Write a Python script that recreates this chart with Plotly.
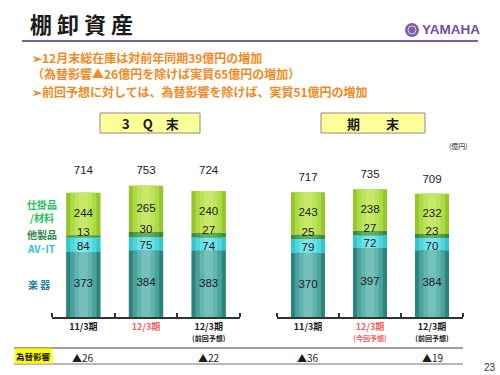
import plotly.graph_objects as go

# ---------------- data ----------------
cat_main = ["11/3期", "12/3期", "12/3期"]
cat_sub_3q = ["", "", "(前回予想)"]
cat_sub_fy = ["", "(今回予想)", "(前回予想)"]
cat_red_3q = [False, True, False]
cat_red_fy = [False, True, False]

series_names = ["楽 器", "AV･IT", "他製品", "仕掛品/材料"]

gakki_3q = [373, 384, 383]
avit_3q = [84, 75, 74]
other_3q = [13, 30, 27]
wip_3q = [244, 265, 240]
total_3q = [714, 753, 724]
fx_3q = [26, None, 22]

gakki_fy = [370, 397, 384]
avit_fy = [79, 72, 70]
other_fy = [25, 27, 23]
wip_fy = [243, 238, 232]
total_fy = [717, 735, 709]
fx_fy = [36, None, 19]

W, H = 500, 375
FONT = "Noto Sans CJK JP"
NUMFONT = "Liberation Sans"
# shading layers (outer edge -> centre) to mimic the horizontal gradient
layer_widths = [0.55, 0.42, 0.28, 0.14]
layer_colors = [
    ["#2f837d", "#49a29c", "#62b5af", "#74c1bb"],
    ["#33c6cd", "#4fd6dc", "#68e0e5", "#7ae7eb"],
    ["#3a8a3c", "#4c9c4d", "#5aa85a", "#62ae62"],
    ["#98c42e", "#addb43", "#bde35a", "#c8e86a"],
]
label_colors = ["#1f7fa5", "#1fc4e0", "#2a8a50", "#22c060"]


def px(x):
    return x / W


def py(y):
    return 1 - y / H


fig = go.Figure()


def add_chart(xa, ya, series, totals, fixed_total_level):
    xs = [0, 1, 2]
    cum = [0, 0, 0]
    bases = []
    for vals in series:
        bases.append(list(cum))
        cum = [c + v for c, v in zip(cum, vals)]
    for li, w in enumerate(layer_widths):
        for i, vals in enumerate(series):
            fig.add_trace(go.Bar(
                x=xs, y=vals, base=bases[i], xaxis=xa, yaxis=ya, width=w,
                marker=dict(color=layer_colors[i][li], line=dict(width=0)),
                showlegend=False, hoverinfo="skip"))
    for i, vals in enumerate(series):
        b = bases[i]
        if i == 2:
            # thin segment: label sits just above the segment's top edge
            pos = [c + v + 10 for c, v in zip(b, vals)]
        elif i == 1:
            pos = [c + v / 2 - 16 for c, v in zip(b, vals)]
        else:
            pos = [c + v / 2 for c, v in zip(b, vals)]
        fig.add_trace(go.Scatter(
            x=xs, y=pos, xaxis=xa, yaxis=ya, mode="text",
            text=[str(v) for v in vals],
            textfont=dict(family=NUMFONT, size=11.5, color="#1a1a1a"),
            showlegend=False, hoverinfo="skip"))
    if fixed_total_level:
        ty = [max(totals) + 86] * 3
    else:
        ty = [t + 80 for t in totals]
    fig.add_trace(go.Scatter(
        x=xs, y=ty, xaxis=xa, yaxis=ya, mode="text",
        text=[str(t) for t in totals],
        textfont=dict(family=NUMFONT, size=11.5, color="#1a1a1a"),
        showlegend=False, hoverinfo="skip"))


add_chart("x", "y", [gakki_3q, avit_3q, other_3q, wip_3q], total_3q, True)
add_chart("x2", "y2", [gakki_fy, avit_fy, other_fy, wip_fy], total_fy, False)


def ticktexts(mains, subs, reds):
    out = []
    for m, s, r in zip(mains, subs, reds):
        col = "#ff5a5a" if r else "#1a1a1a"
        t = f"<b><span style='color:{col}'>{m}</span></b>"
        if s:
            t += f"<br><span style='font-size:7px;color:{col}'><b>{s}</b></span>"
        out.append(t)
    return out


def xaxis_def(dom, mains, subs, reds, anchor):
    return dict(
        domain=dom, range=[-0.5, 2.5], showgrid=False, zeroline=False,
        showline=True, linecolor="#333", linewidth=1.5, anchor=anchor,
        tickvals=[0, 1, 2], ticktext=ticktexts(mains, subs, reds),
        ticks="", tickfont=dict(family=FONT, size=9, color="#1a1a1a"),
        minor=dict(tickvals=[-0.5, 0.5, 1.5, 2.5], ticks="inside", ticklen=4,
                   tickcolor="#333", tickwidth=1.5),
        fixedrange=True)


ydom = [py(317), py(150)]
yax = dict(domain=ydom, range=[0, 960], visible=False, fixedrange=True)

fig.update_layout(
    width=W, height=H, margin=dict(l=0, r=0, t=0, b=0),
    paper_bgcolor="white", plot_bgcolor="white", barmode="overlay",
    xaxis=xaxis_def([px(52), px(240)], cat_main, cat_sub_3q, cat_red_3q, "y"),
    xaxis2=xaxis_def([px(277), px(463)], cat_main, cat_sub_fy, cat_red_fy, "y2"),
    yaxis=dict(**yax, anchor="x"),
    yaxis2=dict(**yax, anchor="x2"),
    font=dict(family=FONT),
)

shapes = []
annos = []


def text(x, y, s, size, color="#1a1a1a", bold=False, anchor="center", **kw):
    if bold:
        s = f"<b>{s}</b>"
    annos.append(dict(x=px(x), y=py(y), xref="paper", yref="paper", text=s,
                      showarrow=False, xanchor=anchor, yanchor="middle",
                      font=dict(family=kw.pop("family", FONT), size=size, color=color), **kw))


# header
text(28, 23, "棚 卸 資 産", 22, "#1a1a1a", True, "left")
shapes.append(dict(type="line", xref="paper", yref="paper", x0=px(22), x1=px(478),
                   y0=py(41), y1=py(41), line=dict(color="#7b5ea7", width=2)))
shapes.append(dict(type="circle", xref="paper", yref="paper", x0=px(405), x1=px(419),
                   y0=py(37), y1=py(23), fillcolor="#7d5fa8", line=dict(width=0)))
shapes.append(dict(type="circle", xref="paper", yref="paper", x0=px(408), x1=px(416),
                   y0=py(34), y1=py(26), fillcolor="rgba(0,0,0,0)",
                   line=dict(color="#d8cce8", width=1)))
text(420, 30, "YAMAHA", 13.5, "#6f4fa0", True, "left", family="Liberation Sans")

orange = "#f08a24"
text(30, 57, "➢12月末総在庫は対前年同期39億円の増加", 12, orange, True, "left")
text(30, 73, "（為替影響▲26億円を除けば実質65億円の増加）", 12, orange, True, "left")
text(30, 91, "➢前回予想に対しては、為替影響を除けば、実質51億円の増加", 12, orange, True, "left")

# period boxes
for x0, x1, s in [(100, 200, "3　Q　末"), (321, 425, "期　　末")]:
    shapes.append(dict(type="rect", xref="paper", yref="paper", x0=px(x0), x1=px(x1),
                       y0=py(133), y1=py(113), fillcolor="#ffff99",
                       line=dict(color="#8a8a8a", width=1)))
    text((x0 + x1) / 2, 123, s, 13, "#1a1a1a", True)
text(458, 146, "(億円)", 7, "#1a1a1a")

# series labels (left)
wip_a, wip_b = series_names[3].split("/")
text(42, 211.5, f"<b>{wip_a}<br>/{wip_b}</b>", 10, label_colors[3], False)
text(42, 234, series_names[2], 10, label_colors[2], True)
text(41, 248, series_names[1], 10, label_colors[1], True)
text(39, 284, series_names[0], 10, label_colors[0], True)

# FX row
shapes.append(dict(type="line", xref="paper", yref="paper", x0=px(14), x1=px(463),
                   y0=py(348), y1=py(348), line=dict(color="#a0a0a0", width=2)))
shapes.append(dict(type="line", xref="paper", yref="paper", x0=px(14), x1=px(463),
                   y0=py(364), y1=py(364), line=dict(color="#a0a0a0", width=1.5)))
annos.append(dict(x=px(14), y=py(355.5), xref="paper", yref="paper",
                  text="<b>為替影響</b>", showarrow=False, xanchor="left", yanchor="middle",
                  bgcolor="#ffff00", borderpad=1,
                  font=dict(family=FONT, size=8.5, color="#1a1a1a")))
for xa, vals in [("x", fx_3q), ("x2", fx_fy)]:
    for i, v in enumerate(vals):
        if v is None:
            continue
        annos.append(dict(x=i, y=py(357), xref=xa, yref="paper", text=f"▲{v}",
                          showarrow=False, xanchor="center", yanchor="middle",
                          font=dict(family=FONT, size=10, color="#1a1a1a")))

text(490, 367, "23", 10, "#333", family=NUMFONT)

fig.update_layout(shapes=shapes, annotations=annos)
fig.write_html("out.html", config={"displayModeBar": False},
               post_script="document.body.style.margin='0';document.body.style.overflow='hidden';")
